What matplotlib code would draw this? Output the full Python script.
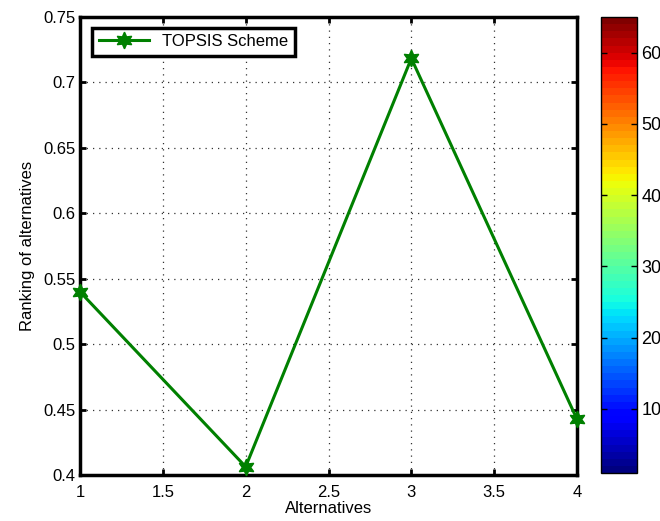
import matplotlib
matplotlib.use('Agg')
import matplotlib.pyplot as plt
import numpy as np
from matplotlib import colors, colorbar

plt.rcParams['font.family'] = ['Liberation Sans', 'DejaVu Sans']

# datos
alternatives = [1, 2, 3, 4]
ranking = [0.540, 0.4063, 0.7184, 0.4426]
x_ticks = [1, 1.5, 2, 2.5, 3, 3.5, 4]
y_ticks = [0.4, 0.45, 0.5, 0.55, 0.6, 0.65, 0.7, 0.75]
y_labels = ['0.4', '0.45', '0.5', '0.55', '0.6', '0.65', '0.7', '0.75']
cb_ticks = [10, 20, 30, 40, 50, 60]

fig = plt.figure(figsize=(6.6, 5.21), dpi=100)
ax = fig.add_axes([80/660, 46/521, 497/660, 458/521])

ax.plot(alternatives, ranking, color=(0, 0.5, 0), lw=2.2, marker=(6, 1, 0),
        markersize=12, markerfacecolor=(0, 0.5, 0), markeredgecolor=(0, 0.5, 0),
        label='TOPSIS Scheme', clip_on=False, zorder=5)

ax.set_xlim(1, 4)
ax.set_ylim(0.4, 0.75)
ax.set_xticks(x_ticks)
ax.set_xticklabels(['1', '1.5', '2', '2.5', '3', '3.5', '4'])
ax.set_yticks(y_ticks)
ax.set_yticklabels(y_labels)
ax.grid(True, linestyle=(0, (1, 4)), color='#333333', lw=0.9)
ax.tick_params(direction='in', length=4, width=2, labelsize=12, top=True, right=True, pad=3)
ax.tick_params(axis='x', pad=7)
for s in ax.spines.values():
    s.set_linewidth(2.5)
ax.set_xlabel('Alternatives', fontsize=12, labelpad=1)
ax.set_ylabel('Ranking of alternatives', fontsize=12, labelpad=6)

leg = ax.legend(loc='upper left', fontsize=12, fancybox=False, borderpad=0.4,
                handlelength=3.0, framealpha=1, edgecolor='black',
                bbox_to_anchor=(0.008, 0.995))
leg.get_frame().set_linewidth(2.5)

# barra de color (jet, 64 colores)
cax = fig.add_axes([601/660, 48/521, 36/660, 456/521])
cmap = plt.get_cmap('jet', 64)
cb = colorbar.ColorbarBase(cax, cmap=cmap, norm=colors.Normalize(1, 65))
cb.set_ticks(cb_ticks)
cb.outline.set_linewidth(1)
cax.tick_params(direction='in', length=4, width=1, labelsize=13, left=True, right=True, pad=3)

fig.savefig('out.png', dpi=100)
